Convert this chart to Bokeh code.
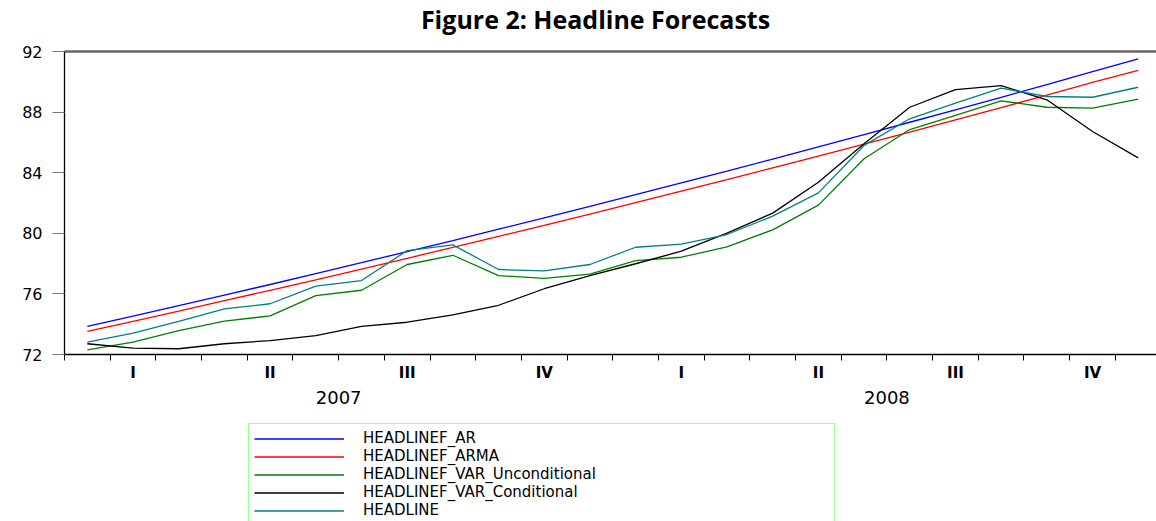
from bokeh.plotting import figure
from bokeh.layouts import column
from bokeh.models import (ColumnDataSource, FixedTicker, LinearAxis, Range1d,
                          Legend, LegendItem, Label)
from bokeh.embed import file_html
from bokeh.resources import INLINE

# ---------------- data ----------------
months = ["2007-01", "2007-02", "2007-03", "2007-04", "2007-05", "2007-06",
          "2007-07", "2007-08", "2007-09", "2007-10", "2007-11", "2007-12",
          "2008-01", "2008-02", "2008-03", "2008-04", "2008-05", "2008-06",
          "2008-07", "2008-08", "2008-09", "2008-10", "2008-11", "2008-12"]
headlinef_ar = [73.85, 74.53, 75.22, 75.92, 76.62, 77.34, 78.06, 78.79, 79.52, 80.27, 81.02, 81.78,
                82.55, 83.33, 84.11, 84.90, 85.70, 86.51, 87.33, 88.15, 88.98, 89.82, 90.67, 91.52]
headlinef_arma = [73.52, 74.19, 74.86, 75.55, 76.24, 76.93, 77.64, 78.35, 79.07, 79.80, 80.53, 81.27,
                  82.02, 82.78, 83.54, 84.32, 85.10, 85.88, 86.68, 87.49, 88.30, 89.12, 89.96, 90.75]
headlinef_var_uncond = [72.31, 72.81, 73.58, 74.20, 74.55, 75.89, 76.24, 77.94, 78.55, 77.21, 77.02, 77.30,
                        78.20, 78.42, 79.11, 80.23, 81.86, 84.92, 86.85, 87.78, 88.74, 88.32, 88.26, 88.85]
headlinef_var_cond = [72.71, 72.42, 72.38, 72.71, 72.92, 73.25, 73.85, 74.13, 74.62, 75.25, 76.34, 77.21,
                      77.99, 78.82, 80.01, 81.33, 83.37, 85.91, 88.32, 89.49, 89.75, 88.81, 86.72, 84.98]
headline = [72.81, 73.41, 74.18, 75.01, 75.35, 76.51, 76.88, 78.86, 79.24, 77.61, 77.52, 77.94,
            79.08, 79.28, 79.92, 81.13, 82.67, 85.80, 87.56, 88.59, 89.58, 89.03, 88.98, 89.64]

series_names = ["HEADLINEF_AR", "HEADLINEF_ARMA", "HEADLINEF_VAR_Unconditional",
                "HEADLINEF_VAR_Conditional", "HEADLINE"]
series_values = [headlinef_ar, headlinef_arma, headlinef_var_uncond, headlinef_var_cond, headline]
series_colors = ["#0000ff", "#ff0000", "#008000", "#000000", "#008080"]

quarter_labels = ["I", "II", "III", "IV"]
years = ["2007", "2008"]
y_ticks = [72, 76, 80, 84, 88, 92]

title_text = "Figure 2: Headline Forecasts"

W = 1156
x_pos = [i + 0.5 for i in range(len(months))]   # middle of each month

# ---------------- title strip ----------------
p0 = figure(width=W, height=40, output_backend="svg", toolbar_location=None,
            x_range=Range1d(0, 1), y_range=Range1d(0, 1),
            x_axis_type=None, y_axis_type=None,
            min_border_left=64, min_border_right=0, min_border_top=0, min_border_bottom=0)
p0.outline_line_color = None
p0.xgrid.visible = False
p0.ygrid.visible = False
p0.add_layout(Label(x=531, y=22, x_units="screen", y_units="screen", text=title_text,
                    text_align="center", text_baseline="middle",
                    text_font="Open Sans", text_font_style="bold",
                    text_font_size="25px", text_color="black"))

# ---------------- main chart ----------------
p = figure(width=W, height=370, output_backend="svg", toolbar_location=None,
           x_range=Range1d(0, 23.9), y_range=Range1d(72, 92),
           x_axis_type=None, y_axis_type=None,
           min_border_left=64, min_border_right=0, min_border_top=11, min_border_bottom=56)
p.outline_line_color = None
p.xgrid.visible = False
p.ygrid.visible = False
p.background_fill_color = "white"
p.border_fill_color = "white"

for name, vals, col in zip(series_names, series_values, series_colors):
    src = ColumnDataSource(dict(x=x_pos, y=vals))
    p.line("x", "y", source=src, line_color=col, line_width=1.3)

# y axis
yax = LinearAxis(ticker=FixedTicker(ticks=y_ticks, minor_ticks=[]))
yax.axis_line_color = "black"
yax.axis_line_width = 1.3
yax.major_tick_out = 12
yax.major_tick_in = 0
yax.major_tick_line_color = "#777777"
yax.minor_tick_line_color = None
yax.major_label_standoff = 10
yax.major_label_text_font = "DejaVu Sans"
yax.major_label_text_font_size = "16px"
yax.major_label_text_color = "black"
p.add_layout(yax, "left")

# top border
top = LinearAxis(ticker=FixedTicker(ticks=[]), major_label_text_font_size="0px")
top.axis_line_color = "#666666"
top.axis_line_width = 2.5
top.major_tick_line_color = None
top.minor_tick_line_color = None
p.add_layout(top, "above")

# quarter axis
n_years = len(years)
q_ticks = [3 * q + 1.5 for q in range(4 * n_years)]
q_over = {t: quarter_labels[k % 4] for k, t in enumerate(q_ticks)}
month_bounds = list(range(0, 12 * n_years + 1))
qax = LinearAxis(ticker=FixedTicker(ticks=q_ticks, minor_ticks=month_bounds),
                 major_label_overrides=q_over)
qax.axis_line_color = "black"
qax.axis_line_width = 1.3
qax.major_tick_line_color = None
qax.major_tick_out = 6
qax.minor_tick_out = 6
qax.minor_tick_in = 0
qax.minor_tick_line_color = "black"
qax.major_label_standoff = 3
qax.major_label_text_font = "DejaVu Sans"
qax.major_label_text_font_style = "bold"
qax.major_label_text_font_size = "15px"
qax.major_label_text_color = "black"
p.add_layout(qax, "below")

# year axis
y_centers = [12 * k + 6 for k in range(n_years)]
yr_over = {t: years[k] for k, t in enumerate(y_centers)}
yrax = LinearAxis(ticker=FixedTicker(ticks=y_centers, minor_ticks=[]),
                  major_label_overrides=yr_over)
yrax.axis_line_color = None
yrax.major_tick_line_color = None
yrax.minor_tick_line_color = None
yrax.major_tick_out = 0
yrax.major_label_standoff = 6
yrax.major_label_text_font = "DejaVu Sans"
yrax.major_label_text_font_size = "18px"
yrax.major_label_text_color = "black"
p.add_layout(yrax, "below")

# ---------------- legend strip ----------------
p2 = figure(width=W, height=111, output_backend="svg", toolbar_location=None,
            x_range=Range1d(-200, -199), y_range=Range1d(0, 1),
            x_axis_type=None, y_axis_type=None,
            min_border_left=64, min_border_right=0, min_border_top=0, min_border_bottom=0)
p2.outline_line_color = None
p2.xgrid.visible = False
p2.ygrid.visible = False

items = []
for name, vals, col in zip(series_names, series_values, series_colors):
    # same series, drawn outside this strip's visible range; only its legend swatch shows
    r = p2.line(x=x_pos, y=vals, line_color=col, line_width=1.3)
    items.append(LegendItem(label=name, renderers=[r]))

legend = Legend(items=items, location=(184, -4))
legend.border_line_color = "#33ff33"
legend.border_line_width = 1
legend.background_fill_alpha = 1
legend.padding = 5
legend.margin = 0
legend.spacing = 0
legend.glyph_width = 90
legend.glyph_height = 17
legend.label_height = 17
legend.label_width = 466
legend.label_standoff = 19
legend.label_text_font = "DejaVu Sans"
legend.label_text_font_size = "15px"
legend.label_text_baseline = "middle"
legend.label_text_color = "black"
p2.add_layout(legend, "center")

layout = column(p0, p, p2, spacing=0)
open("out.html", "w").write(file_html(layout, INLINE))
